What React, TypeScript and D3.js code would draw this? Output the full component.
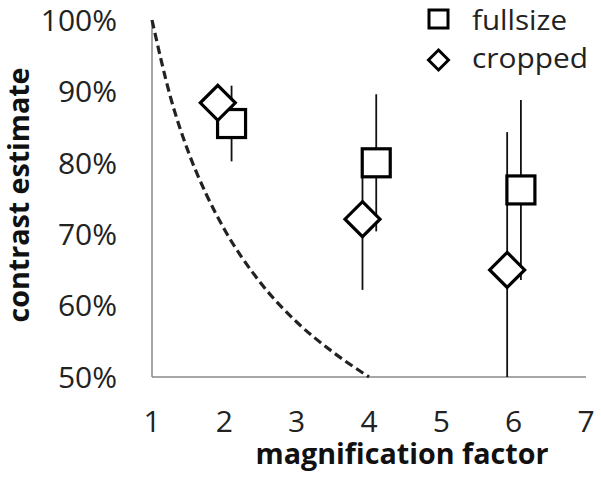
import React from "react";
import * as d3 from "d3";

const xTicks = [1, 2, 3, 4, 5, 6, 7];
const yTicks = [0.5, 0.6, 0.7, 0.8, 0.9, 1.0];

const fullsizeX = [2.1, 4.1, 6.1];
const fullsizeMean = [0.855, 0.8, 0.762];
const fullsizeErr = [0.053, 0.096, 0.126];

const croppedX = [1.91, 3.91, 5.91];
const croppedMean = [0.884, 0.721, 0.65];
const croppedErr = [0.02, 0.099, 0.193];

const refX = [1, 1.25, 1.5, 1.75, 2, 2.5, 3, 3.5, 4];
const refY = [1.0, 0.894, 0.816, 0.756, 0.707, 0.632, 0.577, 0.535, 0.5];

const W = 601;
const H = 480;
const FONT = "'Open Sans', sans-serif";

export default function App() {
  const x = d3.scaleLinear().domain([1, 7]).range([152, 586]);
  const y = d3.scaleLinear().domain([0.5, 1.0]).range([377, 20]);
  const yMin = 0.5;

  const line = d3
    .line<number>()
    .x((_, i) => x(refX[i]))
    .y((d) => y(d))
    .curve(d3.curveMonotoneX);

  const sq = 28;
  const dia = 17.5;
  const diamondPath = (cx: number, cy: number, r: number) =>
    `M${cx},${cy - r}L${cx + r},${cy}L${cx},${cy + r}L${cx - r},${cy}Z`;

  return (
    <svg
      width={W}
      height={H}
      style={{ position: "absolute", left: 0, top: 0, background: "#fff" }}
    >
      <rect x={0} y={0} width={W} height={H} fill="#fff" />
      {/* axes */}
      <line x1={x(1)} y1={y(1.0)} x2={x(1)} y2={y(0.5)} stroke="#888" strokeWidth={1.5} />
      <line x1={x(1)} y1={y(0.5)} x2={x(7)} y2={y(0.5)} stroke="#888" strokeWidth={1.5} />

      {/* y tick labels */}
      {yTicks.map((t) => (
        <text
          key={t}
          x={117}
          y={y(t)}
          dy="0.36em"
          textAnchor="end"
          fontFamily={FONT}
          fontSize={30}
          fill="#222"
        >
          {d3.format(".0%")(t)}
        </text>
      ))}
      {/* x tick labels */}
      {xTicks.map((t) => (
        <text
          key={t}
          x={x(t)}
          y={432}
          textAnchor="middle"
          fontFamily={FONT}
          fontSize={30}
          fill="#222"
        >
          {t}
        </text>
      ))}

      {/* axis titles */}
      <text
        x={402}
        y={464}
        textAnchor="middle"
        fontFamily={FONT}
        fontWeight="bold"
        fontSize={29}
        fill="#111"
        textLength={293}
        lengthAdjust="spacingAndGlyphs"
      >
        magnification factor
      </text>
      <text
        transform={`translate(29,195) rotate(-90)`}
        textAnchor="middle"
        fontFamily={FONT}
        fontWeight="bold"
        fontSize={28}
        fill="#111"
        textLength={255}
        lengthAdjust="spacingAndGlyphs"
      >
        contrast estimate
      </text>

      {/* reference dashed curve */}
      <path d={line(refY) || ""} fill="none" stroke="#222" strokeWidth={3.2} strokeDasharray="8.5,4.5" />

      {/* error bars */}
      {fullsizeX.map((fx, i) => (
        <line
          key={"fe" + i}
          x1={x(fx)}
          x2={x(fx)}
          y1={y(fullsizeMean[i] + fullsizeErr[i])}
          y2={y(Math.max(yMin, fullsizeMean[i] - fullsizeErr[i]))}
          stroke="#111"
          strokeWidth={1.8}
        />
      ))}
      {croppedX.map((cx, i) => (
        <line
          key={"ce" + i}
          x1={x(cx)}
          x2={x(cx)}
          y1={y(croppedMean[i] + croppedErr[i])}
          y2={y(Math.max(yMin, croppedMean[i] - croppedErr[i]))}
          stroke="#111"
          strokeWidth={1.8}
        />
      ))}

      {/* fullsize markers */}
      {fullsizeX.map((fx, i) => (
        <rect
          key={"fm" + i}
          x={x(fx) - sq / 2}
          y={y(fullsizeMean[i]) - sq / 2}
          width={sq}
          height={sq}
          fill="#fff"
          stroke="#000"
          strokeWidth={3.2}
        />
      ))}
      {/* cropped markers */}
      {croppedX.map((cx, i) => (
        <path
          key={"cm" + i}
          d={diamondPath(x(cx), y(croppedMean[i]), dia)}
          fill="#fff"
          stroke="#000"
          strokeWidth={3.2}
        />
      ))}

      {/* legend */}
      <rect x={429} y={10} width={19} height={18} fill="#fff" stroke="#000" strokeWidth={3} />
      <text x={472} y={30} fontFamily={FONT} fontSize={28} fill="#222" textLength={95} lengthAdjust="spacingAndGlyphs">
        fullsize
      </text>
      <path d={diamondPath(438.5, 60, 10)} fill="#fff" stroke="#000" strokeWidth={3} />
      <text x={472} y={68} fontFamily={FONT} fontSize={28} fill="#222" textLength={116} lengthAdjust="spacingAndGlyphs">
        cropped
      </text>
    </svg>
  );
}
